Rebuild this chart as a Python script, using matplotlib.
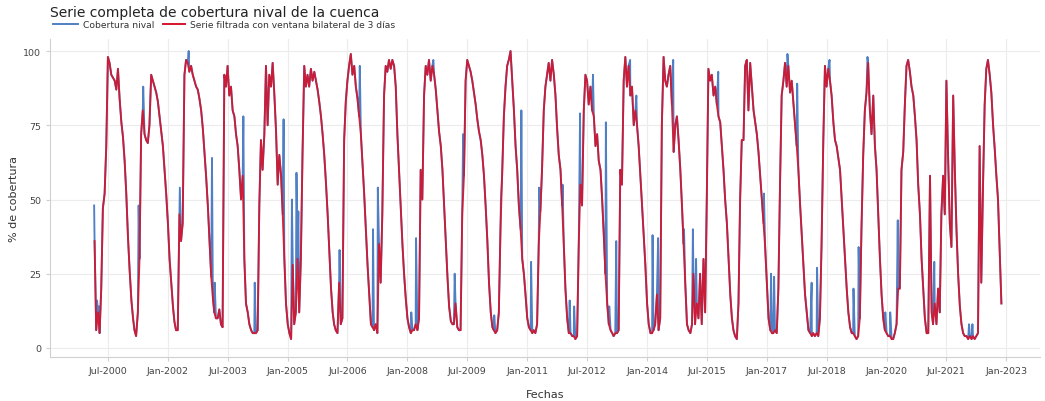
import matplotlib
matplotlib.use("Agg")
import matplotlib.pyplot as plt
import pandas as pd
import numpy as np

# ---------------- data (semi-monthly values of the filtered series) ----------------
c2000 = [36, 6, 12, 5, 20, 47, 52, 68, 98, 96, 92, 91, 90, 87, 94, 84, 76, 71, 63, 52]  # from Mar-1
c2001 = [37, 26, 16, 10, 6, 4, 12, 30, 72, 80, 72, 70, 69, 75, 92, 90, 88, 86, 83, 78, 73, 68, 60, 52]
c2002 = [42, 30, 22, 14, 9, 6, 6, 45, 36, 42, 92, 97, 96, 93, 95, 92, 90, 88, 87, 84, 80, 74, 66, 58]
c2003 = [48, 36, 24, 17, 12, 10, 10, 13, 8, 7, 92, 88, 95, 85, 88, 80, 78, 72, 68, 60, 50, 58, 30, 15]
c2004 = [12, 8, 6, 5, 5, 5, 6, 48, 70, 60, 72, 95, 75, 92, 88, 96, 85, 73, 55, 65, 58, 45, 30, 15]
c2005 = [8, 5, 3, 28, 8, 12, 30, 12, 30, 65, 95, 88, 92, 88, 94, 90, 93, 90, 87, 83, 78, 72, 65, 56]
c2006 = [45, 33, 20, 12, 8, 6, 5, 22, 8, 10, 70, 83, 90, 95, 99, 92, 95, 88, 84, 78, 72, 62, 52, 40]
c2007 = [28, 18, 8, 7, 6, 8, 5, 35, 22, 45, 85, 95, 93, 97, 94, 97, 95, 88, 72, 60, 48, 35, 25, 17]
c2008 = [10, 7, 5, 6, 6, 8, 6, 10, 60, 50, 85, 95, 92, 97, 90, 95, 92, 87, 80, 73, 68, 60, 48, 36]
c2009 = [24, 14, 9, 8, 8, 15, 7, 6, 6, 45, 58, 90, 97, 95, 93, 90, 86, 82, 77, 73, 70, 65, 58, 48]
c2010 = [36, 22, 12, 7, 6, 5, 6, 12, 40, 58, 78, 88, 95, 97, 100, 90, 80, 68, 60, 48, 40, 30, 25, 18]
c2011 = [10, 7, 6, 5, 6, 5, 8, 35, 46, 60, 80, 88, 92, 96, 90, 97, 92, 85, 74, 65, 60, 48, 35, 20]
c2012 = [10, 5, 5, 4, 4, 3, 4, 35, 55, 48, 80, 92, 90, 82, 88, 80, 78, 68, 72, 63, 60, 50, 38, 25]
c2013 = [15, 8, 6, 5, 4, 5, 5, 6, 60, 55, 90, 98, 88, 95, 85, 88, 75, 80, 75, 68, 58, 48, 38, 28]
c2014 = [15, 8, 5, 5, 6, 8, 18, 6, 10, 75, 98, 90, 88, 92, 95, 82, 66, 75, 78, 70, 60, 48, 35, 22]
c2015 = [8, 6, 5, 8, 25, 8, 15, 10, 25, 8, 30, 12, 50, 94, 90, 92, 85, 88, 82, 78, 76, 68, 60, 50]
c2016 = [42, 30, 18, 10, 6, 4, 3, 15, 50, 70, 70, 95, 97, 80, 96, 88, 80, 76, 72, 66, 58, 50, 42, 34]
c2017 = [22, 10, 6, 5, 5, 6, 5, 20, 55, 85, 90, 96, 88, 95, 86, 90, 82, 75, 68, 60, 48, 38, 28, 18]
c2018 = [12, 6, 5, 4, 5, 4, 5, 4, 10, 35, 70, 95, 88, 94, 90, 85, 76, 70, 68, 64, 60, 50, 40, 30]
c2019 = [20, 12, 7, 5, 5, 4, 3, 4, 10, 40, 65, 80, 86, 96, 80, 72, 85, 68, 60, 45, 30, 18, 10, 6]
c2020 = [5, 4, 4, 3, 3, 5, 8, 20, 20, 60, 66, 82, 95, 97, 93, 88, 85, 78, 70, 55, 45, 30, 20, 10]
c2021 = [5, 5, 58, 12, 8, 15, 8, 20, 12, 45, 58, 45, 90, 65, 42, 34, 85, 60, 40, 25, 14, 8, 5, 4]
c2022 = [4, 3, 4, 3, 4, 3, 4, 5, 68, 22, 55, 82, 94, 97, 92, 86, 75, 67, 58, 50, 32, 15]  # to Nov-16

# short spikes present only in the raw (unfiltered) series
picos_fecha = ['2000-02-26', '2000-03-24', '2000-04-08', '2001-04-08', '2001-05-20', '2002-04-20',
               '2002-07-10', '2003-02-08', '2003-03-05', '2003-11-22', '2004-03-05', '2004-11-24',
               '2005-02-08', '2005-03-22', '2005-04-08', '2006-04-20', '2006-10-22', '2007-02-20',
               '2007-04-05', '2008-02-05', '2008-03-20', '2008-08-25', '2009-03-08', '2009-05-24',
               '2010-03-05', '2010-05-05', '2010-11-08', '2011-02-05', '2011-04-20', '2011-11-20',
               '2012-01-24', '2012-03-05', '2012-04-28', '2012-08-24', '2012-12-20', '2013-01-20',
               '2013-03-25', '2013-07-30', '2013-09-25', '2014-02-20', '2014-04-12', '2014-08-28',
               '2014-12-05', '2015-02-24', '2015-03-25', '2015-10-14', '2016-12-05', '2017-02-08',
               '2017-03-08', '2017-07-08', '2017-10-05', '2018-02-14', '2018-04-05', '2018-07-28',
               '2019-03-04', '2019-04-20', '2019-07-10', '2019-12-20', '2020-02-03', '2020-04-12',
               '2021-03-12', '2021-04-20', '2022-01-24', '2022-02-24']
picos_valor = [48, 16, 14, 48, 88, 54,
               100, 64, 22, 78, 22, 77,
               50, 59, 46, 33, 95, 40,
               54, 12, 37, 97, 25, 72,
               11, 50, 80, 29, 54, 55,
               16, 14, 79, 92, 76, 14,
               36, 97, 85, 38, 37, 97,
               40, 40, 30, 93, 52, 25,
               24, 99, 89, 22, 27, 97,
               20, 34, 98, 12, 12, 43,
               29, 20, 8, 8]

xtick_labels = ['Jul-2000', 'Jan-2002', 'Jul-2003', 'Jan-2005', 'Jul-2006', 'Jan-2008', 'Jul-2009',
                'Jan-2011', 'Jul-2012', 'Jan-2014', 'Jul-2015', 'Jan-2017', 'Jul-2018', 'Jan-2020',
                'Jul-2021', 'Jan-2023']
yticks = [0, 25, 50, 75, 100]

# ---------------- assemble series ----------------
years = list(range(2000, 2023))
yearly = [c2000, c2001, c2002, c2003, c2004, c2005, c2006, c2007, c2008, c2009, c2010, c2011,
          c2012, c2013, c2014, c2015, c2016, c2017, c2018, c2019, c2020, c2021, c2022]
fechas, valores = [], []
for y, vals in zip(years, yearly):
    start = 4 if y == 2000 else 0
    for i, v in enumerate(vals):
        k = start + i
        fechas.append(pd.Timestamp(year=y, month=k // 2 + 1, day=1 if k % 2 == 0 else 16))
        valores.append(v)
filtrada = pd.Series(valores, index=pd.DatetimeIndex(fechas))
picos = pd.Series(picos_valor, index=pd.to_datetime(picos_fecha))
cruda = pd.concat([filtrada, picos]).sort_index()

# ---------------- figure ----------------
W, H = 1045, 402
fig = plt.figure(figsize=(W / 100, H / 100), dpi=100)
ax = fig.add_axes([50 / W, 1 - 358 / H, (1040 - 50) / W, (358 - 40) / H])

blue = '#4f7fc4'
red = '#d4142c'
ax.plot(cruda.index, cruda.values, color=blue, lw=1.35)
ax.plot(filtrada.index, filtrada.values, color=red, lw=1.35, alpha=0.92)

# axes limits (pixel calibration: Jul-2000 at x=108, 39.93 px / year)
def px_to_date(px):
    yr = 2000.5 + (px - 108) / 39.93
    y0 = int(np.floor(yr))
    return pd.Timestamp(year=y0, month=1, day=1) + pd.Timedelta(days=(yr - y0) * 365.25)

ax.set_xlim(px_to_date(50), px_to_date(1040))
ax.set_ylim((349 - 358) / 2.97, (349 - 40) / 2.97)

tick_dates = [pd.Timestamp(pd.to_datetime(lbl, format='%b-%Y')) for lbl in xtick_labels]
ax.set_xticks(tick_dates)
ax.set_xticklabels(xtick_labels)
ax.set_yticks(yticks)
ax.set_yticklabels([str(v) for v in yticks])

ax.grid(True, color='#ececec', lw=0.8)
ax.set_axisbelow(True)
for s in ['top', 'right']:
    ax.spines[s].set_visible(False)
for s in ['left', 'bottom']:
    ax.spines[s].set_color('#d0d0d0')
    ax.spines[s].set_linewidth(0.8)
ax.tick_params(axis='both', colors='#d0d0d0', labelcolor='#444444', labelsize=6.8, length=3, width=0.8)

ax.set_xlabel('Fechas', fontsize=8, color='#333333', labelpad=10)
ax.set_ylabel('% de cobertura', fontsize=8, color='#333333', labelpad=3)

fig.text(50 / W, 1 - 13 / H, 'Serie completa de cobertura nival de la cuenca', fontsize=10,
         color='#222222', va='center', ha='left')
# legend (manual, horizontal under the title)
ly = 1 - 25 / H
fig.add_artist(plt.Line2D([53 / W, 78 / W], [ly, ly], color=blue, lw=1.4))
fig.text(83 / W, ly, 'Cobertura nival', fontsize=6.6, color='#333333', va='center', ha='left')
fig.add_artist(plt.Line2D([163 / W, 185 / W], [ly, ly], color=red, lw=1.4))
fig.text(190 / W, ly, 'Serie filtrada con ventana bilateral de 3 días', fontsize=6.6,
         color='#333333', va='center', ha='left')

fig.savefig('out.png', dpi=100)
